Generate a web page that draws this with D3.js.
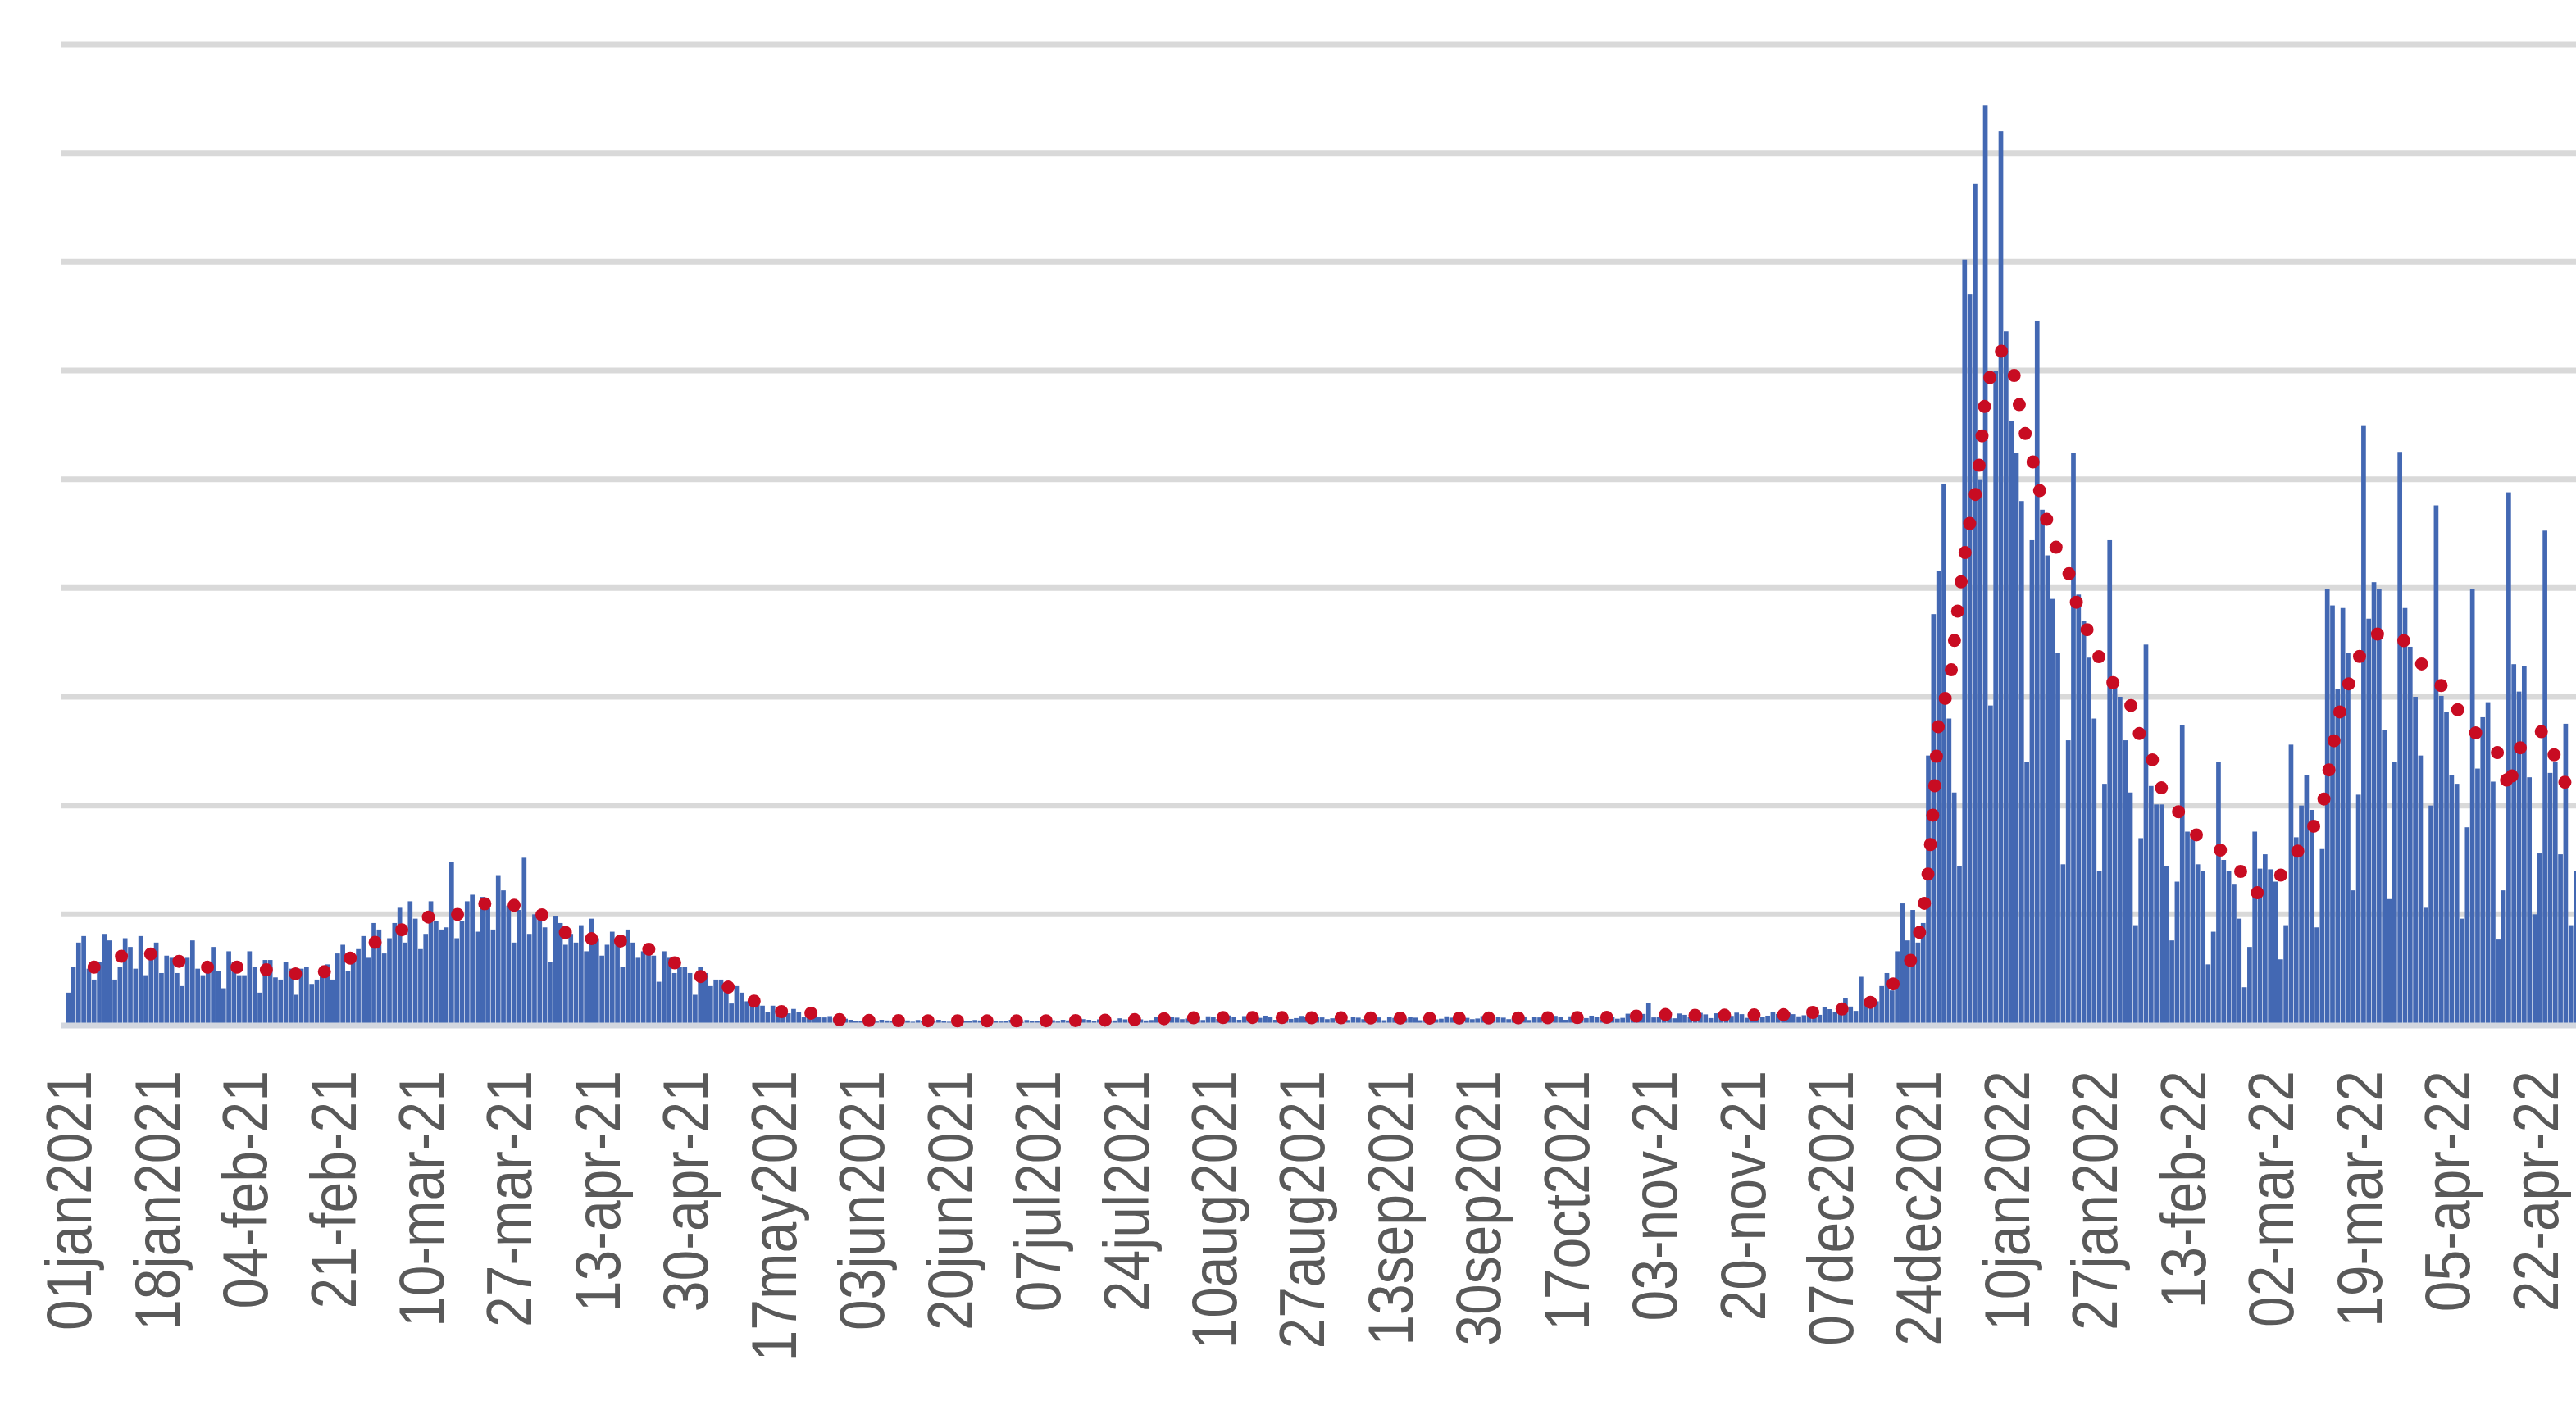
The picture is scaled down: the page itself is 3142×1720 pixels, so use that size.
<!DOCTYPE html>
<html>
<head>
<meta charset="utf-8">
<script src="https://cdn.jsdelivr.net/npm/d3@7"></script>
<style>
  body { margin: 0; background: #fff; overflow: hidden; }
  svg { display: block; }
</style>
</head>
<body>
<div id="chart"></div>
<script>
// daily values, one row = one week, first day = 01jan2021
const startDate = new Date(2021, 0, 1);

const casesQ1 = [
  1400, 2600, 3700, 4000, 2500, 2000, 2800,
  4100, 3800, 2000, 2600, 3900, 3500, 2500,
  4000, 2200, 3300, 3700, 2300, 3100, 3000,
  2300, 1700, 3000, 3800, 2500, 2200, 2600,
  3500, 2400, 1600, 3300, 2800, 2200, 2200,
  3300, 2600, 1400, 2900, 2900, 2100, 2000,
  2800, 2500, 1300, 2500, 2600, 1800, 2000,
  2200, 2700, 2000, 3200, 3600, 2400, 3000,
  3400, 4000, 3000, 4600, 4300, 3200, 3900,
  4600, 5300, 3700, 5600, 4800, 3400, 4100,
  5600, 4700, 4300, 4400, 7400, 3900, 4700,
  5600, 5900, 4200, 5800, 5300, 4300, 6800,
  6100, 5400, 3700, 5200, 7600, 4100, 5000
];
const casesQ2 = [
  5200, 4400, 2800, 4900, 4600, 3600, 4100,
  3700, 4500, 3300, 4800, 3900, 3100, 3600,
  4200, 3800, 2600, 4300, 3700, 3000, 3300,
  3600, 3100, 1900, 3300, 3000, 2300, 2600,
  2600, 2300, 1300, 2600, 2300, 1700, 2000,
  2000, 1700, 900, 1700, 1400, 1000, 1200,
  1100, 800, 500, 800, 600, 400, 450,
  650, 500, 300, 520, 430, 300, 260,
  320, 220, 120, 200, 150, 110, 100,
  180, 130, 70, 150, 120, 90, 100,
  160, 120, 60, 140, 110, 80, 90,
  150, 110, 60, 130, 110, 80, 90,
  140, 120, 60, 130, 100, 70, 80
];
const casesQ3 = [
  150, 110, 50, 140, 110, 80, 90,
  160, 130, 70, 150, 120, 90, 100,
  180, 150, 80, 170, 140, 100, 120,
  220, 170, 90, 200, 170, 120, 140,
  300, 240, 130, 290, 250, 180, 210,
  340, 270, 140, 310, 270, 190, 230,
  350, 280, 150, 320, 270, 200, 240,
  340, 280, 150, 310, 260, 190, 230,
  330, 270, 140, 300, 260, 180, 220,
  320, 260, 140, 290, 250, 180, 220,
  310, 260, 130, 280, 240, 170, 210,
  300, 250, 130, 280, 240, 170, 200,
  310, 250, 130, 290, 240, 180, 210
];
const casesQ4 = [
  320, 260, 140, 300, 250, 180, 220,
  320, 270, 140, 300, 260, 190, 220,
  330, 280, 150, 310, 260, 190, 230,
  340, 290, 160, 330, 280, 200, 240,
  430, 360, 200, 420, 940, 260, 300,
  460, 400, 220, 440, 380, 280, 320,
  470, 400, 230, 450, 390, 290, 330,
  480, 410, 240, 460, 400, 300, 340,
  500, 420, 250, 470, 410, 310, 360,
  650, 560, 380, 720, 640, 520, 600,
  1130, 760, 560, 2130, 900, 700, 1000,
  1700, 2300, 1500, 3300, 5500, 3800, 5200,
  3700, 4600, 12300, 18800, 20800, 24800, 14000
];
const casesQ5 = [
  10600, 7200, 35100, 33500, 38600, 25000, 42200,
  14600, 30000, 41000, 31800, 27700, 26200, 24000,
  12000, 22200, 32300, 23600, 21500, 19500, 17000,
  7300, 13000, 26200, 19700, 18500, 16800, 14000,
  7000, 11000, 22200, 15500, 15000, 13000, 10600,
  4500, 8500, 17400, 10900, 10050, 10050, 7200,
  3800, 6500, 13700, 8800, 8500, 7300, 7000,
  2700, 4200, 12000, 7500, 7000, 6400, 4800,
  1650, 3500, 8800, 7100, 7760, 7070, 6500,
  2930, 4500, 12800, 8540, 10000, 11400, 9800,
  4400, 8000, 19960, 19200, 15340, 19080, 17000,
  6100, 10500, 27450, 18590, 20270, 19970, 13460,
  5700, 12000, 26260, 19080, 17300, 15000, 12300
];
const casesQ6 = [
  5300, 10000, 23800, 15040, 14300, 11400, 11000,
  4800, 9000, 19970, 11700, 14060, 14750, 11100,
  3840, 6100, 24400, 16500, 15240, 16430, 11300,
  5000, 7800, 22640, 11500, 12000, 7760, 13760,
  4500, 7000, 18000, 11000
];

// 7-day average (red dotted line), same rows
const avgQ1 = [
  null, null, null, null, null, 2570, 2650,
  2750, 2850, 2970, 3050, 3120, 3170, 3200,
  3200, 3190, 3170, 3130, 3090, 3070, 2980,
  2880, 2780, 2680, 2600, 2570, 2560, 2570,
  2570, 2570, 2570, 2560, 2570, 2570, 2570,
  2570, 2540, 2500, 2460, 2420, 2380, 2380,
  2340, 2300, 2260, 2220, 2190, 2200, 2260,
  2330, 2400, 2480, 2570, 2730, 2900, 3100,
  3260, 3400, 3540, 3680, 3810, 3950, 4050,
  4150, 4250, 4350, 4450, 4570, 4690, 4810,
  4930, 4940, 4950, 4960, 4970, 4980, 5100,
  5210, 5320, 5430, 5480, 5490, 5490, 5480,
  5480, 5480, 5420, 5340, 5260, 5190, 5140
];
const avgQ2 = [
  5030, 4900, 4750, 4600, 4380, 4150, 3930,
  3760, 3800, 3840, 3880, 3920, 3950, 3900,
  3850, 3800, 3750, 3700, 3640, 3560, 3480,
  3400, 3330, 3260, 3100, 2940, 2780, 2600,
  2500, 2390, 2280, 2150, 2030, 1940, 1850,
  1770, 1690, 1600, 1460, 1320, 1180, 1050,
  950, 830, 720, 620, 540, 520, 500,
  490, 480, 470, 460, 450, 440, 400,
  320, 230, 150, 130, 125, 120, 120,
  120, 118, 116, 115, 115, 114, 113,
  112, 110, 110, 109, 108, 108, 107,
  106, 106, 105, 105, 104, 104, 104,
  103, 103, 102, 102, 102, 101, 101
];
const avgQ3 = [
  101, 101, 102, 102, 103, 104, 105,
  107, 109, 111, 113, 115, 117, 118,
  121, 124, 127, 130, 133, 135, 137,
  142, 147, 152, 157, 162, 167, 172,
  182, 194, 206, 218, 228, 234, 238,
  242, 245, 248, 250, 251, 252, 253,
  255, 257, 258, 259, 259, 258, 257,
  256, 255, 253, 252, 251, 250, 249,
  248, 247, 246, 245, 244, 243, 242,
  241, 240, 239, 238, 237, 236, 235,
  234, 233, 232, 231, 230, 229, 228,
  227, 226, 225, 224, 224, 224, 224,
  225, 226, 227, 228, 229, 230, 231
];
const avgQ4 = [
  232, 233, 234, 235, 236, 237, 238,
  239, 240, 241, 242, 243, 244, 245,
  246, 247, 248, 249, 250, 251, 252,
  254, 256, 258, 260, 262, 264, 266,
  290, 310, 325, 340, 410, 410, 415,
  400, 380, 370, 360, 355, 355, 357,
  358, 359, 360, 362, 363, 364, 366,
  368, 370, 372, 373, 374, 375, 376,
  378, 380, 382, 384, 386, 388, 389,
  470, 500, 530, 560, 590, 620, 640,
  660, 680, 700, 750, 850, 980, 1120,
  1260, 1500, 1750, 2000, 2250, 2600, 3100,
  3800, 5000, 7000, 10000, 14000, 14800, 15300
];
const avgQ5 = [
  17500, 19700, 21500, 23000, 24200, 26000, 28800,
  29800, 30500, 30900, 30800, 30500, 29200, 27800,
  26800, 26000, 25000, 23900, 23000, 22200, 21700,
  21300, 20800, 19800, 19000, 18400, 17900, 17300,
  16800, 16400, 15900, 15500, 15200, 14900, 14700,
  13600, 13200, 12800, 12320, 11400, 10800, 10400,
  10050, 9800, 9500, 9250, 8800, 8600, 8400,
  8150, 8060, 8040, 7800, 7550, 7300, 7070,
  6700, 6300, 5930, 6050, 6200, 6350, 6550,
  6800, 7100, 7500, 7800, 8150, 8550, 8900,
  9300, 9800, 11200, 12600, 13900, 14900, 15500,
  16200, 16760, 17200, 17500, 17840, 17900, 17900,
  17900, 17900, 17840, 17500, 17100, 16760, 16550
];
const avgQ6 = [
  16350, 16150, 15940, 15500, 15100, 14700, 14450,
  14200, 13760, 13500, 13250, 13000, 12860, 12600,
  12400, 11990, 10600, 11800, 12500, 13160, 13250,
  13300, 13380, 13440, 12900, 12160, 11500, 11000,
  10880, 10500, 10200, 9900
];

// category labels, one every 17 days
const tickLabels = [
  "01jan2021", "18jan2021", "04-feb-21", "21-feb-21", "10-mar-21", "27-mar-21",
  "13-apr-21", "30-apr-21", "17may2021", "03jun2021", "20jun2021", "07jul2021",
  "24jul2021", "10aug2021", "27aug2021", "13sep2021", "30sep2021", "17oct2021",
  "03-nov-21", "20-nov-21", "07dec2021", "24dec2021", "10jan2022", "27jan2022",
  "13-feb-22", "02-mar-22", "19-mar-22", "05-apr-22", "22-apr-22"
];
const labelStep = 17;
const yMax = 45000;
const yStep = 5000;

const cases = [].concat(casesQ1, casesQ2, casesQ3, casesQ4, casesQ5, casesQ6);
const avg = [].concat(avgQ1, avgQ2, avgQ3, avgQ4, avgQ5, avgQ6);

const data = cases.map((v, i) => ({
  i: i,
  date: d3.timeDay.offset(startDate, i),
  cases: v,
  avg: avg[i]
}));

const width = 3142, height = 1720;
const plotLeft = 80, plotTop = 54, plotBottom = 1248;
const dayWidth = 6.32;

const svg = d3.select("#chart").append("svg")
  .attr("width", width)
  .attr("height", height)
  .style("background", "#fff");

const x = d3.scaleBand()
  .domain(data.map(d => d.i))
  .range([plotLeft, plotLeft + dayWidth * data.length])
  .paddingInner(0.1)
  .paddingOuter(0.05);

const y = d3.scaleLinear()
  .domain([0, yMax])
  .range([plotBottom, plotTop]);

// gridlines
svg.append("g")
  .selectAll("line")
  .data(d3.range(yStep, yMax + 1, yStep))
  .join("line")
  .attr("x1", plotLeft - 6)
  .attr("x2", width)
  .attr("y1", d => y(d))
  .attr("y2", d => y(d))
  .attr("stroke", "#d9d9d9")
  .attr("stroke-width", 7);

// bars
svg.append("g")
  .selectAll("rect")
  .data(data)
  .join("rect")
  .attr("x", d => x(d.i))
  .attr("width", x.bandwidth())
  .attr("y", d => y(d.cases))
  .attr("height", d => y(0) - y(d.cases))
  .attr("fill", "#4368b3");

// baseline
svg.append("line")
  .attr("x1", plotLeft - 6)
  .attr("x2", width)
  .attr("y1", y(0) + 3)
  .attr("y2", y(0) + 3)
  .attr("stroke", "#d3d7df")
  .attr("stroke-width", 7);

// 7-day average, round dots
const line = d3.line()
  .defined(d => d.avg != null)
  .x(d => x(d.i) + x.bandwidth() / 2)
  .y(d => y(d.avg));

svg.append("path")
  .datum(data)
  .attr("d", line)
  .attr("fill", "none")
  .attr("stroke", "#c80c22")
  .attr("stroke-width", 16)
  .attr("stroke-linecap", "round")
  .attr("stroke-dasharray", "0 36");

// x axis labels
const tickIdx = d3.range(0, data.length, labelStep).slice(0, tickLabels.length);
const xAxis = svg.append("g")
  .attr("transform", `translate(0,${plotBottom})`)
  .call(d3.axisBottom(x)
    .tickValues(tickIdx)
    .tickSize(0)
    .tickFormat((d, i) => tickLabels[i]));

xAxis.select(".domain").remove();
xAxis.selectAll("text")
  .attr("transform", "rotate(-90) scale(0.87,1)")
  .attr("x", -58 / 0.87)
  .attr("y", 0)
  .attr("dy", "0.36em")
  .attr("text-anchor", "end")
  .attr("fill", "#595959")
  .style("font-family", "'Liberation Sans', Arial, sans-serif")
  .style("font-size", "78px");
</script>
</body>
</html>
